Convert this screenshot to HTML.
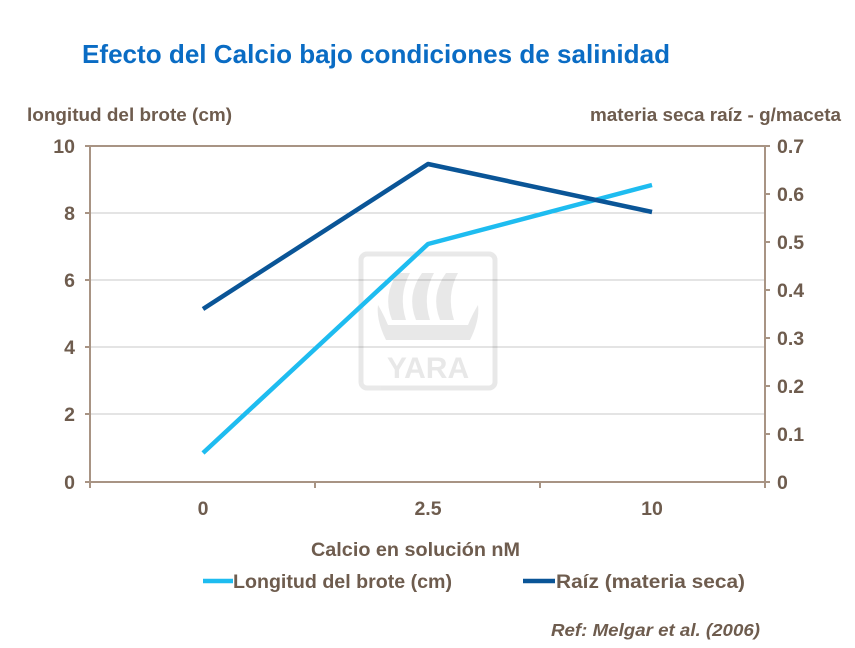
<!DOCTYPE html>
<html><head><meta charset="utf-8"><style>
body{margin:0;background:#fff}
svg text{font-family:"Liberation Sans",Arial,sans-serif;font-weight:bold}
</style></head><body>
<svg width="855" height="643" viewBox="0 0 855 643" xmlns="http://www.w3.org/2000/svg">
<rect width="855" height="643" fill="#fff"/>
<text x="82" y="63" font-size="26" fill="#0a6cc4" textLength="588" lengthAdjust="spacingAndGlyphs">Efecto del Calcio bajo condiciones de salinidad</text>
<text x="27" y="121" font-size="18.5" fill="#6e5c4e" textLength="205" lengthAdjust="spacingAndGlyphs">longitud del brote (cm)</text>
<text x="590" y="121" font-size="18.5" fill="#6e5c4e" textLength="251" lengthAdjust="spacingAndGlyphs">materia seca raíz - g/maceta</text>
<g stroke="#c8c8c8" stroke-width="1">
<line x1="90" y1="213" x2="765" y2="213"/><line x1="90" y1="280" x2="765" y2="280"/>
<line x1="90" y1="347" x2="765" y2="347"/><line x1="90" y1="414" x2="765" y2="414"/>
</g>
<g stroke="#a89484" stroke-width="2" fill="none">
<line x1="85" y1="146" x2="770" y2="146"/>
<line x1="90" y1="146" x2="90" y2="482"/><line x1="765" y1="146" x2="765" y2="482"/>
<line x1="85" y1="482" x2="770" y2="482"/>
<line x1="85" y1="213" x2="90" y2="213"/><line x1="85" y1="280" x2="90" y2="280"/><line x1="85" y1="347" x2="90" y2="347"/><line x1="85" y1="414" x2="90" y2="414"/>
<line x1="765" y1="194" x2="770" y2="194"/><line x1="765" y1="242" x2="770" y2="242"/><line x1="765" y1="290" x2="770" y2="290"/><line x1="765" y1="338" x2="770" y2="338"/><line x1="765" y1="386" x2="770" y2="386"/><line x1="765" y1="434" x2="770" y2="434"/>
<line x1="90" y1="482" x2="90" y2="488"/><line x1="315" y1="482" x2="315" y2="488"/><line x1="540" y1="482" x2="540" y2="488"/><line x1="765" y1="482" x2="765" y2="488"/>
</g>
<g font-size="19.5" fill="#6e5c4e" text-anchor="end">
<text x="75" y="153">10</text><text x="75" y="220">8</text><text x="75" y="287">6</text><text x="75" y="354">4</text><text x="75" y="421">2</text><text x="75" y="489">0</text>
</g>
<g font-size="19.5" fill="#6e5c4e">
<text x="777" y="153">0.7</text><text x="777" y="201">0.6</text><text x="777" y="249">0.5</text><text x="777" y="297">0.4</text><text x="777" y="345">0.3</text><text x="777" y="393">0.2</text><text x="777" y="441">0.1</text><text x="777" y="489">0</text>
</g>
<g font-size="19.5" fill="#6e5c4e" text-anchor="middle">
<text x="203" y="515">0</text><text x="428" y="515">2.5</text><text x="652" y="515">10</text>
</g>
<g opacity="0.13" fill="#555">
<rect x="361" y="254" width="134" height="134" rx="6" fill="none" stroke="#555" stroke-width="5"/>
<path d="M392 320 q-10 -25 6 -47 l12 0 q-12 22 -4 47z"/>
<path d="M416 320 q-10 -25 6 -47 l12 0 q-12 22 -4 47z"/>
<path d="M440 320 q-10 -25 6 -47 l12 0 q-12 22 -4 47z"/>
<path d="M378 305 q6 10 10 20 l80 0 q4 -10 10 -20 q2 15 -8 35 l-84 0 q-10 -20 -8 -35z"/>
<text x="428" y="378" font-size="30" text-anchor="middle">YARA</text>
</g>
<polyline points="203,453 428,244 652,185" fill="none" stroke="#1ebcf0" stroke-width="4.5" stroke-linejoin="round"/>
<polyline points="203,309 428,164 652,212" fill="none" stroke="#0a5597" stroke-width="4.5" stroke-linejoin="round"/>
<text x="311" y="556" font-size="19" fill="#6e5c4e" textLength="209" lengthAdjust="spacingAndGlyphs">Calcio en solución nM</text>
<line x1="203" y1="581" x2="233" y2="581" stroke="#1ebcf0" stroke-width="4.5"/>
<text x="233" y="588" font-size="19.5" fill="#6e5c4e" textLength="219" lengthAdjust="spacingAndGlyphs">Longitud del brote (cm)</text>
<line x1="523" y1="581" x2="555" y2="581" stroke="#0a5597" stroke-width="4.5"/>
<text x="556" y="588" font-size="19.5" fill="#6e5c4e" textLength="189" lengthAdjust="spacingAndGlyphs">Raíz (materia seca)</text>
<text x="551" y="636" font-size="17.5" fill="#6e5c4e" font-style="italic" textLength="209" lengthAdjust="spacingAndGlyphs">Ref: Melgar et al. (2006)</text>
</svg>
</body></html>
